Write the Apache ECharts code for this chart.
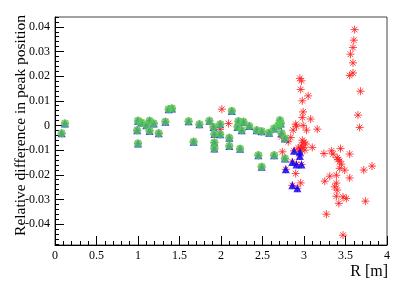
<!DOCTYPE html>
<html><head><meta charset="utf-8">
<script src="https://cdn.jsdelivr.net/npm/echarts@6/dist/echarts.min.js"></script>
<style>html,body{margin:0;padding:0;background:#fff}#c{width:415px;height:285px}</style>
</head><body><div id="c"></div>
<script>
// Green circles (R [m], relative difference)
const greenR = [0.08,0.12,1.00,0.99,1.00,1.04,1.10,1.14,1.14,1.19,1.25,1.33,1.37,1.41,1.61,1.67,1.74,1.86,1.91,1.92,1.92,1.92,1.99,1.99,2.13,2.10,2.10,2.21,2.20,2.27,2.34,2.25,2.23,2.43,2.49,2.58,2.64,2.45,2.64,2.71,2.69,2.73,2.77,2.77,2.49,2.72];
const greenY = [-0.0032,0.0008,0.0019,-0.0019,-0.0073,0.0012,0.0001,0.0019,-0.0022,0.0008,-0.0032,0.0015,0.0066,0.0069,0.0017,-0.0066,0.0005,0.0019,-0.0006,-0.0035,-0.0069,-0.0093,0.0005,-0.0036,0.0059,-0.0050,-0.0083,0.0017,-0.0006,0.0015,-0.0002,-0.0019,-0.0095,-0.0019,-0.0024,-0.0030,-0.0012,-0.0121,-0.0121,0.0021,0.0000,-0.0032,-0.0053,-0.0134,-0.0168,0.0008];
// Blue triangles beyond the green ones
const blueR = [2.88,2.95,2.95,2.86,2.91,2.97,2.78,2.86,2.92];
const blueY = [-0.0103,-0.0107,-0.0124,-0.0148,-0.0158,-0.0158,-0.0178,-0.0243,-0.0255];
// Red stars beyond the blue/green ones
const redR = [2.01,2.09,1.99,2.95,2.97,2.96,3.05,2.98,2.99,2.98,3.08,2.90,2.99,3.03,3.16,2.87,2.84,2.91,3.61,3.60,3.59,3.56,3.59,3.59,3.55,3.68,3.65,3.67,2.73,2.81,2.74,2.97,3.01,2.99,3.10,3.24,3.33,3.35,3.44,3.55,3.41,3.45,3.43,3.49,3.55,3.39,3.31,3.25,3.39,3.37,3.40,3.39,3.47,3.51,3.42,3.72,3.82,3.74,3.27,3.47,2.90,2.96,3.43,3.40,3.00,2.93,2.98,3.02,2.96];
const redY = [0.0066,0.0008,-0.0016,0.0191,0.0181,0.0146,0.0120,0.0100,0.0055,0.0032,0.0026,0.0005,0.0000,-0.0019,-0.0015,-0.0019,-0.0049,-0.0003,0.0389,0.0346,0.0316,0.0289,0.0254,0.0213,0.0203,0.0139,0.0042,-0.0008,-0.0047,-0.0066,-0.0107,-0.0080,-0.0100,-0.0090,-0.0089,-0.0114,-0.0103,-0.0116,-0.0094,-0.0116,-0.0138,-0.0157,-0.0174,-0.0181,-0.0213,-0.0202,-0.0206,-0.0226,-0.0234,-0.0249,-0.0262,-0.0287,-0.0290,-0.0296,-0.0316,-0.0181,-0.0165,-0.0307,-0.0360,-0.0445,-0.0195,-0.0233,-0.0145,-0.0131,-0.0068,-0.0091,-0.0060,-0.0075,-0.0095];
const yTickValues = [-0.04,-0.03,-0.02,-0.01,0,0.01,0.02,0.03,0.04];
const yTickLabels = ['-0.04','-0.03','-0.02','-0.01','0','0.01','0.02','0.03','0.04'];
const yMinorTickValues = [];
for (let k = -24; k <= 22; k++) yMinorTickValues.push(k * 0.002);
const xTitle = 'R [m]';
const yTitle = 'Relative difference in peak position';

const pairs = (a, b) => a.map((v, i) => [v, b[i]]);
const greenPts = pairs(greenR, greenY);
const bluePts = greenPts.concat(pairs(blueR, blueY));
const redPts = bluePts.concat(pairs(redR, redY));

const FONT = 'Liberation Serif';
const yLabel = v => {
  let best = 0, d = Infinity;
  yTickValues.forEach((t, i) => { if (Math.abs(t - v) < d) { d = Math.abs(t - v); best = i; } });
  return yTickLabels[best];
};
const chart = echarts.init(document.getElementById('c'), null, {renderer: 'canvas'});
chart.setOption({
  animation: false,
  backgroundColor: '#fff',
  grid: {left: 55, right: 28, top: 17, bottom: 40, show: true, borderColor: '#444', borderWidth: 1},
  xAxis: {
    type: 'value', min: 0, max: 4, interval: 0.5,
    axisLine: {onZero: false, lineStyle: {color: '#000'}},
    axisTick: {inside: true, length: 9, lineStyle: {color: '#000'}},
    minorTick: {show: true, splitNumber: 5, length: 4, lineStyle: {color: '#000'}},
    axisLabel: {margin: 5, color: '#000', fontFamily: FONT, fontSize: 12, formatter: v => String(Number(v.toFixed(2)))},
    splitLine: {show: false}
  },
  yAxis: [{
    type: 'value', min: -0.0485, max: 0.044,
    axisLine: {show: true, onZero: false, lineStyle: {color: '#000'}},
    axisTick: {inside: true, length: 9, customValues: yTickValues, lineStyle: {color: '#000'}},
    axisLabel: {margin: 5, customValues: yTickValues, color: '#000', fontFamily: FONT, fontSize: 12, formatter: yLabel},
    splitLine: {show: false}
  }, {
    type: 'value', min: -0.0485, max: 0.044, position: 'left', offset: 0,
    axisLine: {show: false, onZero: false},
    axisTick: {show: true, inside: true, length: 4, customValues: yMinorTickValues, lineStyle: {color: '#000'}},
    axisLabel: {show: false},
    splitLine: {show: false}
  }],
  series: [{
    type: 'scatter', yAxisIndex: 0, data: redPts,
    symbol: 'path://M0,4L8,4M4,0L4,8M1.2,1.2L6.8,6.8M6.8,1.2L1.2,6.8',
    symbolSize: 8,
    itemStyle: {color: 'none', borderColor: '#ff1a1a', borderWidth: 1}
  }, {
    type: 'scatter', yAxisIndex: 0, data: bluePts,
    symbol: 'triangle', symbolSize: 8,
    itemStyle: {color: '#0000ff'}
  }, {
    type: 'scatter', yAxisIndex: 0, data: greenPts,
    symbol: 'circle', symbolSize: 8,
    itemStyle: {color: '#55d055'}
  }],
  graphic: [{
    type: 'text', right: 27, top: 264,
    style: {text: xTitle, font: '16px "Liberation Serif"', fill: '#000'}
  }, {
    type: 'text', x: 21, y: 15, rotation: Math.PI / 2,
    style: {text: yTitle, font: '15.5px "Liberation Serif"', fill: '#000', textAlign: 'right', textVerticalAlign: 'middle'}
  }]
});
</script>
</body></html>
